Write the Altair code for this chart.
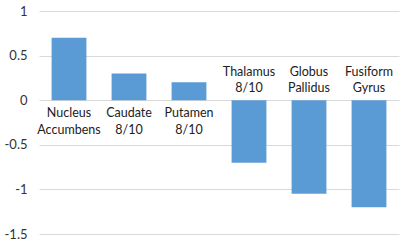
import altair as alt
import pandas as pd

regions = ["Nucleus\nAccumbens", "Caudate\n8/10", "Putamen\n8/10", "Thalamus\n8/10", "Globus\nPallidus", "Fusiform\nGyrus"]
values = [0.70, 0.30, 0.20, -0.70, -1.05, -1.20]
y_ticks = [-1.5, -1, -0.5, 0, 0.5, 1]

df = pd.DataFrame({"region": regions, "value": values, "order": list(range(len(regions)))})

x = alt.X("region:N", sort=regions, axis=None,
          scale=alt.Scale(paddingInner=0.42, paddingOuter=0.21))
y = alt.Y("value:Q", scale=alt.Scale(domain=[-1.5, 1], nice=False, zero=True),
          axis=alt.Axis(values=y_ticks, title=None, domain=False, ticks=False,
                        labelFontSize=13, labelFont="Lato", labelColor="#333333",
                        labelPadding=12, gridColor="#d9d9d9", gridWidth=1,
                        labelExpr="datum.value + ''"))

base = alt.Chart(df)
bars = base.mark_bar(color="#5B9BD5").encode(x=x, y=y)

txt_pos = base.transform_filter("datum.value >= 0").mark_text(
    baseline="top", dy=7, lineBreak="\n", fontSize=12.5, font="Lato",
    color="#222222", lineHeight=17
).encode(x=x, y=alt.datum(0), text="region:N")

txt_neg = base.transform_filter("datum.value < 0").mark_text(
    baseline="top", dy=-34, lineBreak="\n", fontSize=12.5, font="Lato",
    color="#222222", lineHeight=16
).encode(x=x, y=alt.datum(0), text="region:N")

chart = alt.layer(bars, txt_pos, txt_neg).properties(
    width=360, height=223,
    autosize=alt.AutoSizeParams(type="none"),
    padding={"left": 39, "top": 11, "right": 14, "bottom": 16},
).configure_view(stroke=None)

chart.save("out.html", embed_options={"renderer": "svg", "actions": False})
